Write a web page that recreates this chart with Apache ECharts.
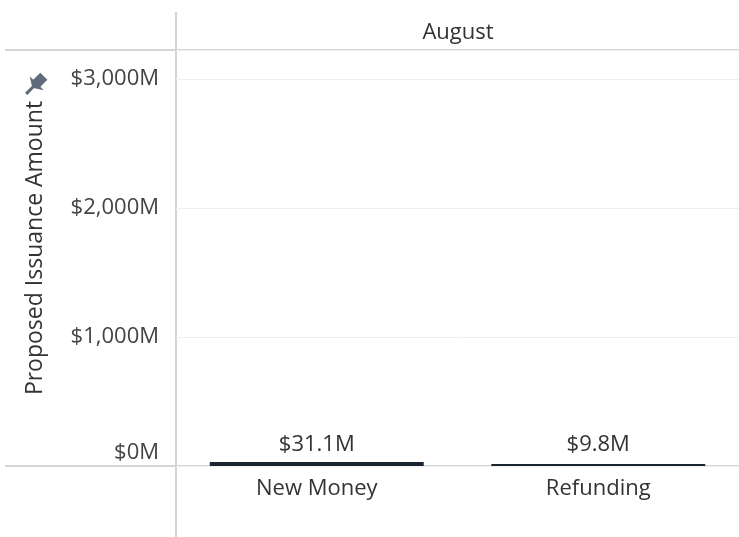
<!DOCTYPE html>
<html lang="en">
<head>
    <meta charset="UTF-8">
    <title>Proposed Issuance Amount</title>
    <script src="https://cdn.jsdelivr.net/npm/echarts@6/dist/echarts.min.js"></script>
    <style>
        html, body { margin: 0; padding: 0; background: #fff; }
        #main { width: 739px; height: 537px; }
    </style>
</head>
<body>
<div id="main"></div>
<script type="text/javascript">
    var categories = ['New Money', 'Refunding'];
    var amounts = [31.1, 9.8];           // $M
    var barLabels = ['$31.1M', '$9.8M'];
    var headerText = 'August';

    var myChart = echarts.init(document.getElementById('main'));
    var font = 'Open Sans';
    var fs = 22;

    myChart.setOption({
        animation: false,
        textStyle: {fontFamily: font},
        grid: {left: 176, right: 0, top: 50, bottom: 71},
        xAxis: {
            type: 'category',
            data: categories,
            axisLine: {show: false},
            axisTick: {show: false},
            axisLabel: {color: '#333', fontSize: fs, margin: 12}
        },
        yAxis: {
            type: 'value',
            min: 0,
            max: 3225,
            interval: 1000,
            name: 'Proposed Issuance Amount',
            nameLocation: 'middle',
            nameGap: 129,
            nameTextStyle: {color: '#333', fontSize: 23, padding: [0, 0, 0, 20]},
            axisLine: {show: false},
            axisTick: {show: false},
            axisLabel: {
                color: '#444', fontSize: fs, margin: 17, showMaxLabel: false,
                formatter: function (v) {
                    var s = '$' + v.toLocaleString('en-US') + 'M';
                    // bottom label sits above the baseline
                    return v === 0 ? '{low|' + s + '}' : s;
                },
                rich: {low: {color: '#444', fontSize: fs, padding: [0, 0, 26, 0]}}
            },
            splitLine: {lineStyle: {color: '#efefef', width: 1}}
        },
        series: [{
            type: 'bar',
            data: amounts,
            barWidth: '76%',
            barMinHeight: 2,
            itemStyle: {color: '#1b2431'},
            label: {
                show: true,
                position: 'insideBottom',
                distance: 10,
                color: '#333',
                fontSize: fs,
                formatter: function (p) { return barLabels[p.dataIndex]; }
            }
        }],
        graphic: [
            // header / divider lines
            {type: 'line', shape: {x1: 5, y1: 50, x2: 739, y2: 50}, style: {stroke: '#d4d4d4', lineWidth: 2}},
            {type: 'line', shape: {x1: 5, y1: 466, x2: 739, y2: 466}, style: {stroke: '#d4d4d4', lineWidth: 2}},
            {type: 'line', shape: {x1: 176, y1: 12, x2: 176, y2: 537}, style: {stroke: '#d4d4d4', lineWidth: 2}},
            {type: 'text', x: 458, y: 33, style: {text: headerText, font: fs + 'px "' + font + '"', fill: '#333', align: 'center', verticalAlign: 'middle'}},
            // pin icon
            {
                type: 'group', x: 35, y: 85, rotation: -Math.PI / 4, scaleX: 1.25, scaleY: 1.25,
                children: [
                    {type: 'rect', shape: {x: -4, y: -10, width: 8, height: 9}, style: {fill: '#5f6b7a'}},
                    {type: 'polygon', shape: {points: [[-8, -2], [8, -2], [0, 3]]}, style: {fill: '#5f6b7a'}},
                    {type: 'line', shape: {x1: 0, y1: 2, x2: 0, y2: 10}, style: {stroke: '#5f6b7a', lineWidth: 2.5}}
                ]
            }
        ]
    });
</script>
</body>
</html>
